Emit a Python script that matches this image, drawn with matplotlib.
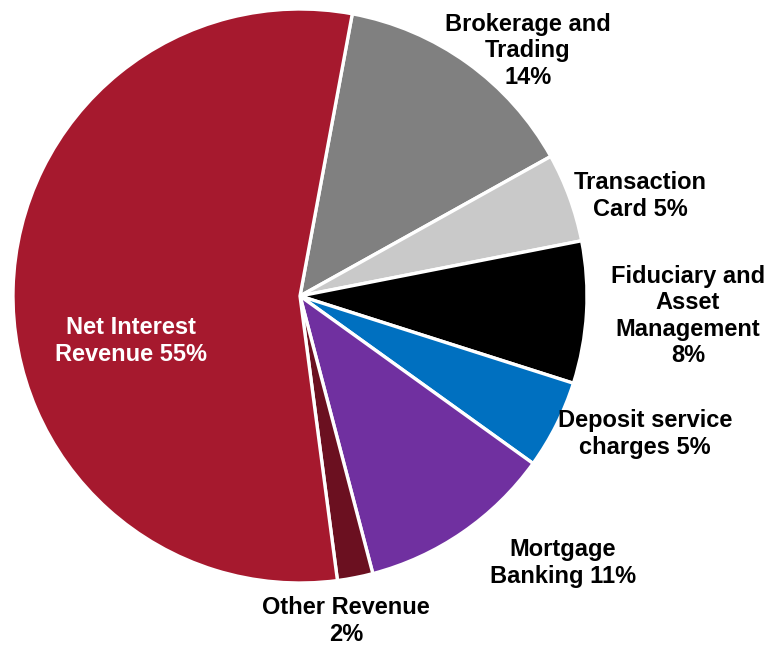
import matplotlib.pyplot as plt

plt.rcParams['font.family'] = ['Liberation Sans', 'DejaVu Sans']

# Revenue mix, clockwise from the top
categories = ["Brokerage and\nTrading\n14%", "Transaction\nCard 5%",
              "Fiduciary and\nAsset\nManagement\n8%", "Deposit service\ncharges 5%",
              "Mortgage\nBanking 11%", "Other Revenue\n2%", "Net Interest\nRevenue 55%"]
shares = [14, 5, 8, 5, 11, 2, 55]
colors = ["#808080", "#C9C9C9", "#000000", "#0070C0", "#7030A0", "#6B1020", "#A6192E"]

# label anchor points in pixels (x from left, y from top)
label_px = [(528, 51), (640, 196), (688, 316), (645, 434), (563, 563), (346, 621), (131, 341)]
label_color = ["black"] * 6 + ["white"]

W, H = 768, 645
cx, cy, R = 300, 296, 287

fig = plt.figure(figsize=(W / 100, H / 100), dpi=100)
ax = fig.add_axes([0, 0, 1, 1])
ax.pie(shares, colors=colors, startangle=79.5, counterclock=False,
       radius=1, center=(0, 0),
       wedgeprops=dict(edgecolor="white", linewidth=2.4))
ax.set_xlim(-cx / R, (W - cx) / R)
ax.set_ylim(-(H - cy) / R, cy / R)
ax.set_aspect('equal')
ax.axis('off')

for text, (px, py), c in zip(categories, label_px, label_color):
    ax.text((px - cx) / R, (cy - py) / R, text, ha='center', va='center',
            fontsize=17, fontweight='bold', color=c, linespacing=1.2)

fig.savefig("out.png", dpi=100)
